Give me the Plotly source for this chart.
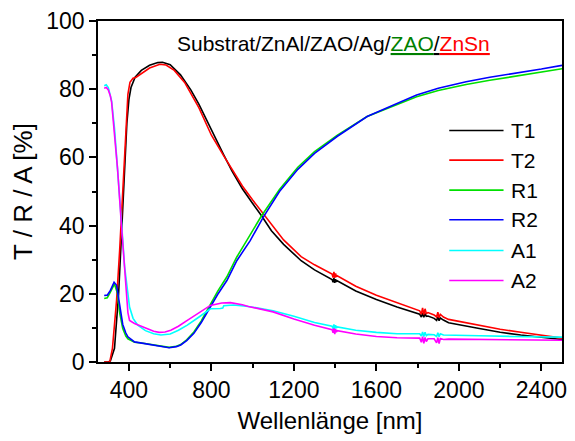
import plotly.graph_objects as go

# --- Transmission, sample 1 and 2 -------------------------------------------
t1_wl = [280, 300, 310, 330, 350, 365, 380, 390, 400, 410, 430, 460, 500, 540, 563,
         600, 650, 700, 739, 780, 811, 859, 900, 950, 1000, 1043, 1091, 1150, 1235,
         1300, 1385, 1390, 1394, 1398, 1402, 1406, 1410, 1500, 1600, 1700,
         1810, 1818, 1824, 1830, 1836, 1842, 1850, 1880, 1892, 1898, 1904, 1910, 1925,
         1950, 2099, 2200, 2300, 2400, 2500]
t1_val = [0, 0, 0.3, 4, 20, 40, 60, 70, 77, 80.5, 83.5, 85.5, 87.0, 87.8, 87.9,
          87.2, 84.2, 79.8, 75.6, 70.5, 66.3, 60.8, 56.0, 50.8, 46.5, 42.9, 38.5, 34.5, 29.7,
          27.0, 24.2, 23.4, 24.6, 23.2, 24.3, 23.5, 23.8, 20.8, 18.3, 16.1,
          14.0, 13.2, 14.4, 13.1, 14.2, 13.4, 13.5, 12.8, 12.2, 13.3, 12.1, 12.9, 12.3,
          11.5, 9.8, 8.7, 7.9, 7.2, 6.6]

t2_wl = [280, 307, 320, 340, 355, 362, 375, 385, 395, 405, 420, 435, 460, 500, 550,
         580, 620, 670, 739, 800, 859, 900, 950, 1000, 1051, 1100, 1150, 1235, 1300,
         1385, 1390, 1394, 1398, 1402, 1406, 1410, 1500, 1600, 1700,
         1810, 1818, 1824, 1830, 1836, 1842, 1850, 1880, 1892, 1898, 1904, 1910, 1925,
         1950, 2099, 2200, 2300, 2400, 2500]
t2_val = [0, 0, 4, 18, 32.7, 40.5, 58, 70, 78.5, 82.0, 83.2, 83.5, 84.5, 86.2, 87.3,
          87.1, 85.5, 82.0, 74.6, 66.5, 60.5, 56.5, 51.6, 47.5, 43.5, 39.5, 35.8, 30.9, 28.5,
          25.8, 24.8, 26.4, 24.7, 26.0, 25.0, 25.3, 22.2, 19.6, 17.3,
          15.0, 14.0, 15.9, 13.9, 15.6, 14.2, 14.5, 13.8, 13.2, 14.6, 13.0, 14.0, 13.2,
          12.5, 10.8, 9.6, 8.7, 7.8, 7.0]

# --- Reflection -------------------------------------------------------------
r1_wl = [280, 295, 310, 330, 345, 355, 370, 385, 395, 427, 470, 507, 550, 595, 630,
         651, 680, 715, 750, 795, 830, 875, 923, 971, 1040, 1130, 1219, 1300, 1411,
         1555, 1699, 1795, 1900, 2035, 2150, 2275, 2400, 2500]
r1_val = [18.6, 18.8, 20.5, 22.9, 20.0, 14.5, 9.8, 7.6, 6.8, 5.8, 5.5, 5.2, 4.7, 4.3, 4.6,
          5.1, 6.5, 8.8, 12.0, 16.8, 20.7, 25.0, 30.8, 35.6, 42.6, 50.6, 57.1, 61.7, 66.5,
          72.0, 75.6, 77.8, 79.6, 81.4, 82.6, 83.8, 85.0, 86.0]

r2_wl = [280, 295, 310, 328, 340, 355, 370, 385, 395, 427, 470, 507, 550, 595, 630,
         651, 680, 715, 750, 795, 830, 875, 923, 988, 1051, 1130, 1219, 1300, 1411,
         1555, 1699, 1795, 1900, 2035, 2150, 2275, 2400, 2500]
r2_val = [19.5, 19.6, 21.0, 23.4, 22.5, 16.1, 11.0, 8.5, 7.4, 5.9, 5.5, 5.1, 4.7, 4.2, 4.5,
          5.0, 6.3, 8.4, 11.5, 16.1, 19.8, 23.9, 29.7, 35.6, 42.4, 50.0, 56.5, 61.2, 66.2,
          72.0, 75.9, 78.3, 80.3, 82.2, 83.5, 84.6, 85.9, 87.0]

# --- Absorption ---------------------------------------------------------------
a1_wl = [280, 290, 300, 310, 316, 330, 345, 362, 379, 395, 403, 420, 443, 480, 520,
         555, 600, 640, 683, 740, 795, 843, 855, 860, 907, 979, 1099, 1200, 1300,
         1385, 1390, 1394, 1398, 1402, 1406, 1410, 1500, 1600, 1700,
         1810, 1818, 1824, 1830, 1836, 1842, 1850, 1880, 1892, 1898, 1904, 1910, 1925,
         1950, 2100, 2250, 2400, 2500]
a1_val = [81.0, 81.3, 80.5, 78.5, 76.6, 68.5, 57.5, 42.5, 28.0, 19.0, 16.1, 12.8, 10.8, 9.2, 8.3,
          7.9, 8.2, 9.3, 10.8, 13.2, 15.6, 15.7, 15.8, 16.5, 16.7, 16.3, 15.0, 13.4, 11.6,
          10.5, 9.8, 11.0, 9.7, 10.8, 10.0, 10.3, 9.3, 8.7, 8.3,
          8.3, 7.6, 8.8, 7.5, 8.7, 7.7, 8.1, 8.0, 7.5, 8.6, 7.4, 8.3, 7.9,
          7.9, 7.7, 7.5, 7.4, 7.3]

a2_wl = [280, 290, 300, 310, 316, 330, 345, 362, 379, 395, 403, 427, 475, 520, 547,
         575, 603, 640, 683, 740, 795, 850, 892, 950, 979, 1099, 1200, 1300,
         1385, 1390, 1394, 1398, 1402, 1406, 1410, 1500, 1600, 1700,
         1810, 1818, 1824, 1830, 1836, 1842, 1850, 1880, 1892, 1898, 1904, 1910, 1925,
         1950, 2100, 2250, 2400, 2500]
a2_val = [80.3, 80.5, 79.8, 78.0, 76.2, 67.5, 56.5, 41.5, 26.5, 14.5, 12.2, 11.3, 10.1, 9.0, 8.7,
          8.8, 9.3, 10.5, 12.2, 14.5, 16.6, 17.3, 17.4, 16.8, 16.3, 14.7, 12.6, 10.8,
          9.5, 8.6, 9.9, 8.2, 9.6, 8.8, 9.2, 8.2, 7.5, 7.1,
          7.0, 5.8, 7.4, 5.5, 7.2, 6.0, 6.8, 6.8, 5.6, 7.1, 5.4, 6.9, 6.6,
          6.7, 6.6, 6.5, 6.4, 6.4]

series = [
    ("T1", t1_wl, t1_val, "#000000"),
    ("T2", t2_wl, t2_val, "#ff0000"),
    ("R1", r1_wl, r1_val, "#00e000"),
    ("R2", r2_wl, r2_val, "#0000ff"),
    ("A1", a1_wl, a1_val, "#00ffff"),
    ("A2", a2_wl, a2_val, "#ff00ff"),
]

FONT = "Liberation Sans, Arial, sans-serif"

fig = go.Figure()
for name, wl, val, color in series:
    fig.add_trace(go.Scatter(x=wl, y=val, mode="lines", name=name,
                             line=dict(color=color, width=1.6), showlegend=False))

# Legend drawn as line samples + labels on the right side of the plot
leg_y = [0.679, 0.592, 0.504, 0.417, 0.327, 0.239]
shapes = []
annotations = []
for (name, _, _, color), yy in zip(series, leg_y):
    shapes.append(dict(type="line", xref="paper", yref="paper",
                       x0=0.757, x1=0.874, y0=yy, y1=yy,
                       line=dict(color=color, width=1.6)))
    annotations.append(dict(xref="paper", yref="paper", x=0.885, y=yy,
                            text=name, showarrow=False, xanchor="left", yanchor="middle",
                            font=dict(family=FONT, size=21, color="black")))

# Layer stack caption
annotations.append(dict(
    xref="paper", yref="paper", x=0.507, y=0.935, showarrow=False,
    xanchor="center", yanchor="middle",
    font=dict(family=FONT, size=21, color="black"),
    text=("Substrat/ZnAl/ZAO/Ag/"
          "<span style='color:#008000'><u>ZAO</u></span>"
          "<u>/</u>"
          "<span style='color:#ff0000'><u>ZnSn</u></span>")))

fig.update_layout(
    width=575, height=441,
    margin=dict(l=98, r=8, t=19, b=79),
    paper_bgcolor="white", plot_bgcolor="white",
    font=dict(family=FONT, color="black"),
    shapes=shapes, annotations=annotations,
    showlegend=False,
)
fig.update_xaxes(
    range=[250, 2500], tick0=0, dtick=400,
    ticks="outside", ticklen=7, tickwidth=1.5, tickcolor="black",
    minor=dict(dtick=200, ticks="outside", ticklen=4, tickwidth=1.5, tickcolor="black"),
    showline=True, linewidth=1.5, linecolor="black", mirror=True,
    showgrid=False, zeroline=False,
    tickfont=dict(family=FONT, size=23),
    title=dict(text="Wellenlänge [nm]", font=dict(family=FONT, size=24), standoff=10),
)
fig.update_yaxes(
    range=[0, 100], tick0=0, dtick=20,
    ticks="outside", ticklen=7, tickwidth=1.5, tickcolor="black",
    minor=dict(dtick=10, ticks="outside", ticklen=4, tickwidth=1.5, tickcolor="black"),
    showline=True, linewidth=1.5, linecolor="black", mirror=True,
    showgrid=False, zeroline=False,
    tickfont=dict(family=FONT, size=23),
    title=dict(text="T / R / A [%]", font=dict(family=FONT, size=26), standoff=6),
)

fig.write_html("out.html")
